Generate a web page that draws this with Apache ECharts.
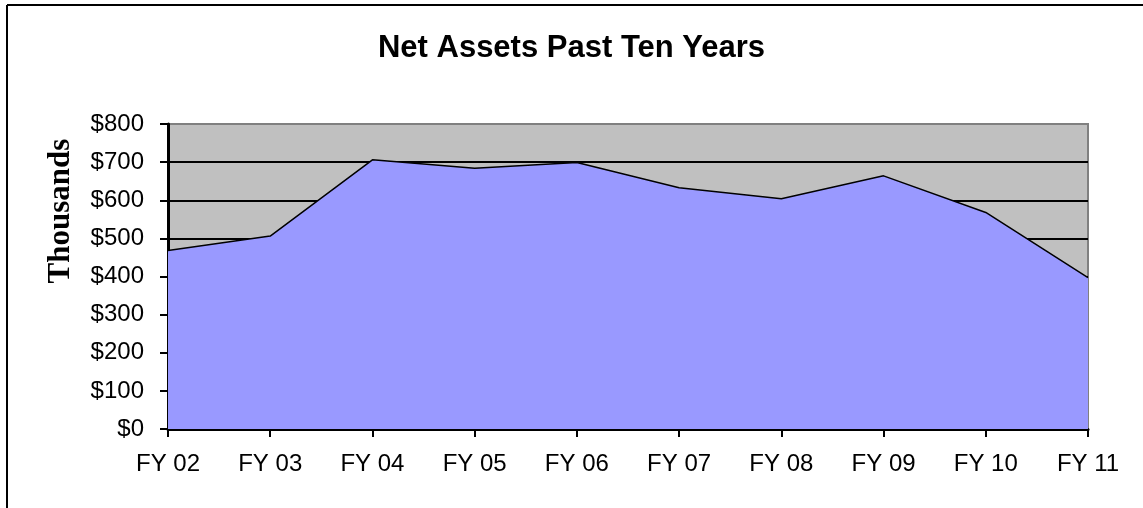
<!DOCTYPE html>
<html>
<head>
<meta charset="utf-8">
<script src="https://cdn.jsdelivr.net/npm/echarts@6/dist/echarts.min.js"></script>
<style>
	html, body { margin: 0; padding: 0; background: #fff; }
	#chart { width: 1143px; height: 508px; }
</style>
</head>
<body>
<div id="chart"></div>
<script>
// Net assets, thousands of dollars
var years = ['FY 02', 'FY 03', 'FY 04', 'FY 05', 'FY 06', 'FY 07', 'FY 08', 'FY 09', 'FY 10', 'FY 11']
var netAssets = [468, 506, 706, 684, 699, 633, 604, 664, 568, 397]

var sansFont = 'Liberation Sans, Arial, sans-serif'

var chart = echarts.init(document.getElementById('chart'))

var option = {
	animation: false,
	title: {
		text: 'Net Assets Past Ten Years',
		left: 'center',
		top: 28,
		textStyle: {
			fontFamily: sansFont,
			fontSize: 31,
			fontWeight: 'bold',
			color: '#000',
		},
	},
	graphic: [
		// outer chart frame (only left and top edges in view)
		{ type: 'line', shape: { x1: 7, y1: 5, x2: 7, y2: 508 }, style: { stroke: '#000', lineWidth: 2 } },
		{ type: 'line', shape: { x1: 7, y1: 5, x2: 1143, y2: 5 }, style: { stroke: '#000', lineWidth: 2 } },
		// value axis title sits above the axis middle in the original
		{
			type: 'text',
			x: 61,
			y: 211,
			rotation: Math.PI / 2,
			style: {
				text: 'Thousands',
				fontFamily: 'Liberation Serif, Times New Roman, serif',
				fontSize: 31,
				fontWeight: 'bold',
				fill: '#000',
				align: 'center',
				verticalAlign: 'middle',
			},
		},
	],
	grid: {
		left: 168,
		right: 55,
		top: 124,
		bottom: 79,
		show: true,
		backgroundColor: '#C0C0C0',
		borderColor: '#808080',
		borderWidth: 2,
	},
	xAxis: {
		type: 'category',
		data: years,
		boundaryGap: false,
		axisLine: { lineStyle: { color: '#000', width: 3 } },
		axisTick: { length: 8, lineStyle: { color: '#000', width: 2 } },
		axisLabel: {
			margin: 23,
			fontFamily: sansFont,
			fontSize: 24,
			color: '#000',
		},
	},
	yAxis: {
		type: 'value',
		min: 0,
		max: 800,
		interval: 100,
		axisLine: { show: true, lineStyle: { color: '#000', width: 3 } },
		axisTick: { show: true, length: 8, lineStyle: { color: '#000', width: 2 } },
		axisLabel: {
			margin: 24,
			fontFamily: sansFont,
			fontSize: 24,
			color: '#000',
			formatter: function (v) { return '$' + v },
		},
		splitLine: {
			show: true,
			lineStyle: {
				color: ['#000', '#000', '#000', '#000', '#000', '#000', '#000', '#000', '#808080'],
				width: 2,
			},
		},
	},
	series: [
		{
			type: 'line',
			data: netAssets,
			symbol: 'none',
			lineStyle: { color: '#000', width: 1.5 },
			areaStyle: { color: '#9999FF', opacity: 1 },
			z: 3,
		},
	],
}

chart.setOption(option)
</script>
</body>
</html>
